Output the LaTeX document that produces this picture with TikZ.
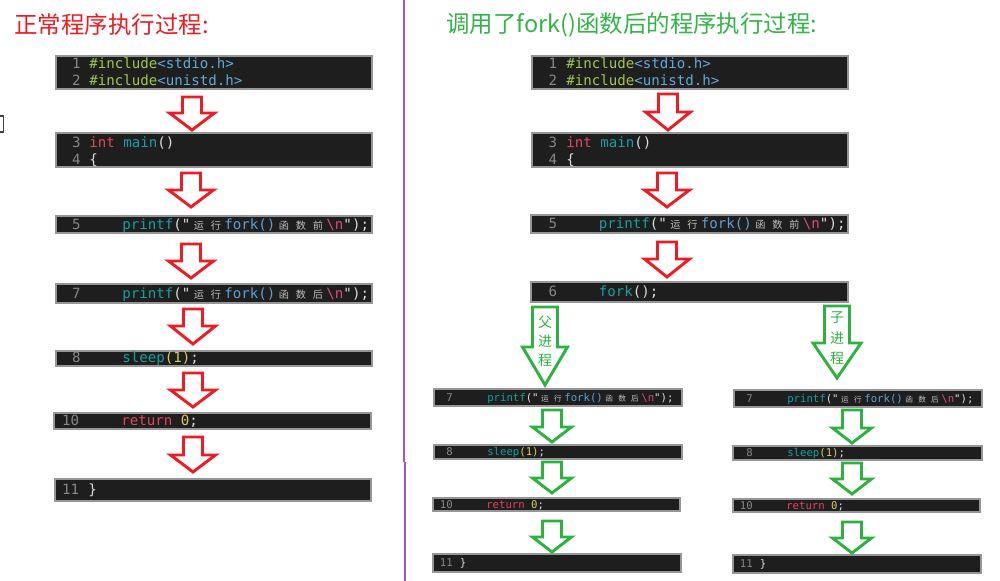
\documentclass[tikz,border=0pt]{standalone}
\usepackage{fontspec}
\usepackage{graphicx}
\setmonofont{DejaVu Sans Mono}
\newfontfamily\cjk{Noto Sans CJK SC}
\usetikzlibrary{fit}
\definecolor{cRed}{RGB}{237,28,36}
\definecolor{cGreen}{RGB}{45,178,65}
\definecolor{cTitleG}{RGB}{52,180,72}
\definecolor{cPurple}{RGB}{168,82,190}
\definecolor{cBox}{RGB}{30,30,30}
\definecolor{cBorder}{RGB}{150,150,150}
\definecolor{cNum}{RGB}{135,135,135}
\definecolor{cInc}{RGB}{158,200,80}
\definecolor{cHdr}{RGB}{95,170,215}
\definecolor{cKw}{RGB}{228,68,92}
\definecolor{cFn}{RGB}{22,160,160}
\definecolor{cFork}{RGB}{90,160,215}
\definecolor{cEsc}{RGB}{222,72,122}
\definecolor{cYel}{RGB}{215,205,95}
\definecolor{cTxt}{RGB}{220,220,220}
\definecolor{cZh}{RGB}{190,190,195}
\newcommand\codeA{\ttfamily\fontsize{10.6}{12}\selectfont}
\newcommand\codeB{\ttfamily\fontsize{8}{9}\selectfont}
\newcommand\zc[1]{\makebox[1.204em]{\textcolor{cZh}{\scalebox{0.72}{\cjk #1}}}}
\newcommand\incl[1]{\textcolor{cInc}{\#include}\textcolor{cHdr}{<#1>}}
\newcommand\prt[1]{\textcolor{cFn}{printf}("\zc{运}\zc{行}\textcolor{cFork}{fork()}\zc{函}\zc{数}\zc{#1}\textcolor{cEsc}{\textbackslash n}");}
\newcommand\slp{\textcolor{cFn}{sleep}\textcolor{cYel}{(1)};}
\newcommand\ret{\textcolor{cKw}{return} \textcolor{cYel}{0};}
\newcommand\blockarrow[7]{%
  \draw[#1] ({#2-#5},#3) -- ({#2+#5},#3) -- ({#2+#5},#7) -- ({#2+#6},#7) -- (#2,#4) -- ({#2-#6},#7) -- ({#2-#5},#7) -- cycle;}
\tikzset{
  codebox/.style={draw=cBorder, line width=0.8pt, fill=cBox, inner sep=0pt},
  lnum/.style={anchor=east, inner sep=0pt, text=cNum},
  lcode/.style={anchor=west, inner sep=0pt, text=cTxt},
  bigcode/.style={font=\codeA, text height=7.4pt, text depth=0.5pt},
  smallcode/.style={font=\codeB, text height=5.6pt, text depth=0.4pt},
  redarrow/.style={draw=cRed, line width=2.2pt, fill=white, line join=miter},
  greenarrow/.style={draw=cGreen, line width=2.2pt, fill=white, line join=miter},
  vlabel/.style={text=cGreen, font=\cjk\fontsize{10.5}{12}\selectfont, inner sep=0pt},
  titletext/.style={anchor=west, inner sep=0pt, font=\cjk\fontsize{17.6}{20}\selectfont},
}
\begin{document}
\begin{tikzpicture}[x=0.75pt,y=-0.75pt]
\useasboundingbox (0,0) rectangle (1000,581);
\fill[white] (0,0) rectangle (1000,581);
% divider and margin mark
\draw[cPurple, line width=2pt] (404,0) -- (404,462);
\draw[cPurple, line width=2pt] (405,462) -- (405,581);
\draw[black!75, line width=1pt] (0,116) -- (3.5,116) -- (3.5,132) -- (0,132);
% titles
\node[titletext, text=cRed] (tL) at (14,25) {正常程序执行过程:};
\node[titletext, text=cTitleG] (tR) at (446,25) {调用了fork()函数后的程序执行过程:};

% ===== left column =====
\node[codebox, fit={(56,56)(372,89)}] (L1) {};
\node[lnum,bigcode] (L1n1) at (81,64) {1};
\node[lcode,bigcode] (L1c1) at (89,64) {\incl{stdio.h}};
\node[lnum,bigcode] (L1n2) at (81,81) {2};
\node[lcode,bigcode] (L1c2) at (89,81) {\incl{unistd.h}};
\node[codebox, fit={(56,133)(372,167)}] (L2) {};
\node[lnum,bigcode] (L2n1) at (81,143) {3};
\node[lcode,bigcode] (L2c1) at (89,143) {\textcolor{cKw}{int} \textcolor{cFn}{main}()};
\node[lnum,bigcode] (L2n2) at (81,160) {4};
\node[lcode,bigcode] (L2c2) at (89,160) {\{};
\node[codebox, fit={(56,216)(372,233)}] (L3) {};
\node[lnum,bigcode] (L3n) at (81,225) {5};
\node[lcode,bigcode] (L3c) at (122,225) {\prt{前}};
\node[codebox, fit={(56,284)(372,303)}] (L4) {};
\node[lnum,bigcode] (L4n) at (81,294) {7};
\node[lcode,bigcode] (L4c) at (122,294) {\prt{后}};
\node[codebox, fit={(56,351)(372,366)}] (L5) {};
\node[lnum,bigcode] (L5n) at (81,358) {8};
\node[lcode,bigcode] (L5c) at (122,358) {\slp};
\node[codebox, fit={(54,413)(371,429)}] (L6) {};
\node[lnum,bigcode] (L6n) at (79.5,421) {10};
\node[lcode,bigcode] (L6c) at (121,421) {\ret};
\node[codebox, fit={(55,479)(371,501)}] (L7) {};
\node[lnum,bigcode] (L7n) at (79.5,490) {11};
\node[lcode,bigcode] (L7c) at (88,490) {\}};
\blockarrow{redarrow}{192}{97}{130}{9.5}{22.5}{113}
\blockarrow{redarrow}{191}{173}{207}{9.5}{22.5}{190}
\blockarrow{redarrow}{191}{244}{278}{9.5}{22.5}{261}
\blockarrow{redarrow}{193}{309}{344}{9.5}{22.5}{326}
\blockarrow{redarrow}{193}{373}{407}{9.5}{22.5}{390}
\blockarrow{redarrow}{193}{437}{472}{9.5}{22.5}{455}

% ===== right column =====
\node[codebox, fit={(532,56)(848,89)}] (R1) {};
\node[lnum,bigcode] (R1n1) at (557.5,64) {1};
\node[lcode,bigcode] (R1c1) at (566,64) {\incl{stdio.h}};
\node[lnum,bigcode] (R1n2) at (557.5,81) {2};
\node[lcode,bigcode] (R1c2) at (566,81) {\incl{unistd.h}};
\node[codebox, fit={(532,133)(848,167)}] (R2) {};
\node[lnum,bigcode] (R2n1) at (557.5,143) {3};
\node[lcode,bigcode] (R2c1) at (566,143) {\textcolor{cKw}{int} \textcolor{cFn}{main}()};
\node[lnum,bigcode] (R2n2) at (557.5,160) {4};
\node[lcode,bigcode] (R2c2) at (566,160) {\{};
\node[codebox, fit={(531,215)(848,233)}] (R3) {};
\node[lnum,bigcode] (R3n) at (557.5,224) {5};
\node[lcode,bigcode] (R3c) at (598.5,224) {\prt{前}};
\node[codebox, fit={(531,282)(848,302)}] (R4) {};
\node[lnum,bigcode] (R4n) at (557.5,292) {6};
\node[lcode,bigcode] (R4c) at (598.5,292) {\textcolor{cFn}{fork}();};
\blockarrow{redarrow}{668}{94}{130}{9.5}{22.5}{112}
\blockarrow{redarrow}{667}{173}{207}{9.5}{22.5}{190}
\blockarrow{redarrow}{667}{242}{277}{9.5}{22.5}{259}

% fork branches
\blockarrow{greenarrow}{545}{307}{385}{12.5}{22.5}{347}
\node[vlabel] (pa1) at (545,322) {父};
\node[vlabel] (pa2) at (545,341) {进};
\node[vlabel] (pa3) at (545,360) {程};
\blockarrow{greenarrow}{837}{306}{378}{12.5}{24}{343}
\node[vlabel] (ch1) at (837,318) {子};
\node[vlabel] (ch2) at (837,338) {进};
\node[vlabel] (ch3) at (837,358) {程};

% parent branch
\node[codebox, fit={(434,389)(682,406)}] (P7) {};
\node[lnum,smallcode] (P7n) at (453,398) {7};
\node[lcode,smallcode] (P7c) at (487,398) {\prt{后}};
\node[codebox, fit={(434,445)(682,459)}] (P8) {};
\node[lnum,smallcode] (P8n) at (453,452) {8};
\node[lcode,smallcode] (P8c) at (487,452) {\slp};
\node[codebox, fit={(433,498)(680,511)}] (P10) {};
\node[lnum,smallcode] (P10n) at (453,505) {10};
\node[lcode,smallcode] (P10c) at (486,505) {\ret};
\node[codebox, fit={(433,554)(681,572)}] (P11) {};
\node[lnum,smallcode] (P11n) at (453,563) {11};
\node[lcode,smallcode] (P11c) at (459.5,563) {\}};
\blockarrow{greenarrow}{552}{410}{442}{9.5}{19.5}{427}
\blockarrow{greenarrow}{552}{462}{493}{9.5}{19.5}{478}
\blockarrow{greenarrow}{552}{521}{552}{9.5}{19.5}{537}

% child branch
\node[codebox, fit={(734,390)(982,407)}] (C7) {};
\node[lnum,smallcode] (C7n) at (753,399) {7};
\node[lcode,smallcode] (C7c) at (787,399) {\prt{后}};
\node[codebox, fit={(733,446)(982,460)}] (C8) {};
\node[lnum,smallcode] (C8n) at (753,453) {8};
\node[lcode,smallcode] (C8c) at (787,453) {\slp};
\node[codebox, fit={(733,499)(980,512)}] (C10) {};
\node[lnum,smallcode] (C10n) at (753,506) {10};
\node[lcode,smallcode] (C10c) at (786,506) {\ret};
\node[codebox, fit={(733,555)(981,573)}] (C11) {};
\node[lnum,smallcode] (C11n) at (753,564) {11};
\node[lcode,smallcode] (C11c) at (759.5,564) {\}};
\blockarrow{greenarrow}{852}{410}{443}{9.5}{19.5}{428}
\blockarrow{greenarrow}{852}{463}{494}{9.5}{19.5}{479}
\blockarrow{greenarrow}{852}{522}{553}{9.5}{19.5}{538}
\end{tikzpicture}
\end{document}
